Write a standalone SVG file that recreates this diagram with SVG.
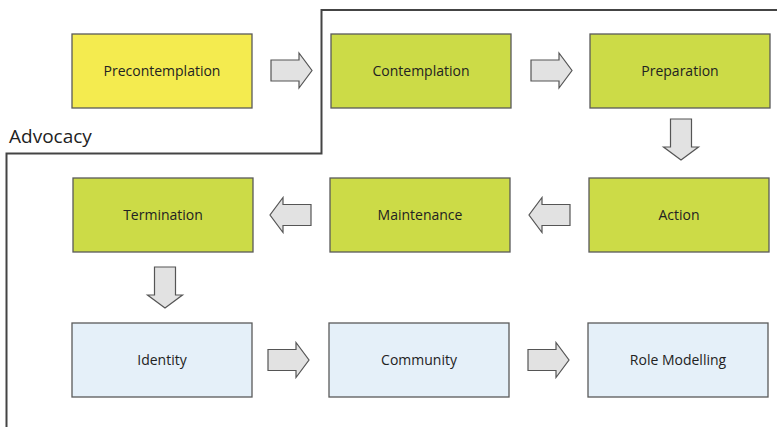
<svg xmlns="http://www.w3.org/2000/svg" width="777" height="427" viewBox="0 0 777 427">
<style>
.box{stroke:#5a5a5a;stroke-width:1.3}
.y{fill:#f4eb4f}
.g{fill:#ccdb47}
.b{fill:#e5f0f9}
.t{font-family:"Open Sans","Noto Sans",sans-serif;font-size:14px;fill:#222;text-anchor:middle}
.arr{fill:#e2e2e2;stroke:#555;stroke-width:1.2;stroke-linejoin:miter}
.border{fill:none;stroke:#444;stroke-width:2}
</style>
<defs>
<path id="ar" d="M0,-10.5 H28 V-17.5 L41,0 L28,17.5 V10.5 H0 Z"/>
</defs>
<rect width="777" height="427" fill="#fff"/>
<g id="advocacy">
<path class="border" d="M777,10 H321.5 V153.5 H6.5 V427"/>
<text x="9" y="143" style="font-family:'Open Sans','Noto Sans',sans-serif;font-size:19px;fill:#222">Advocacy</text>
</g>
<g id="precontemplation"><rect class="box y" x="72" y="34" width="180" height="74"/><text class="t" x="162" y="76">Precontemplation</text></g>
<g id="contemplation"><rect class="box g" x="331" y="34" width="180" height="74"/><text class="t" x="421" y="76">Contemplation</text></g>
<g id="preparation"><rect class="box g" x="590" y="34" width="180" height="74"/><text class="t" x="680" y="76">Preparation</text></g>
<g id="termination"><rect class="box g" x="73" y="178" width="180" height="74"/><text class="t" x="163" y="220">Termination</text></g>
<g id="maintenance"><rect class="box g" x="330" y="178" width="180" height="74"/><text class="t" x="420" y="220">Maintenance</text></g>
<g id="action"><rect class="box g" x="589" y="178" width="180" height="74"/><text class="t" x="679" y="220">Action</text></g>
<g id="identity"><rect class="box b" x="72" y="323" width="180" height="74"/><text class="t" x="162" y="365">Identity</text></g>
<g id="community"><rect class="box b" x="329" y="323" width="180" height="74"/><text class="t" x="419" y="365">Community</text></g>
<g id="rolemodelling"><rect class="box b" x="588" y="323" width="180" height="74"/><text class="t" x="678" y="365">Role Modelling</text></g>
<g id="connectors">
<use href="#ar" class="arr" transform="translate(271,70.5)"/>
<use href="#ar" class="arr" transform="translate(531,70.5)"/>
<use href="#ar" class="arr" transform="translate(681,119) rotate(90)"/>
<use href="#ar" class="arr" transform="translate(570,215) rotate(180)"/>
<use href="#ar" class="arr" transform="translate(311,215) rotate(180)"/>
<use href="#ar" class="arr" transform="translate(165,267) rotate(90)"/>
<use href="#ar" class="arr" transform="translate(268,360)"/>
<use href="#ar" class="arr" transform="translate(528,360)"/>
</g>
</svg>
